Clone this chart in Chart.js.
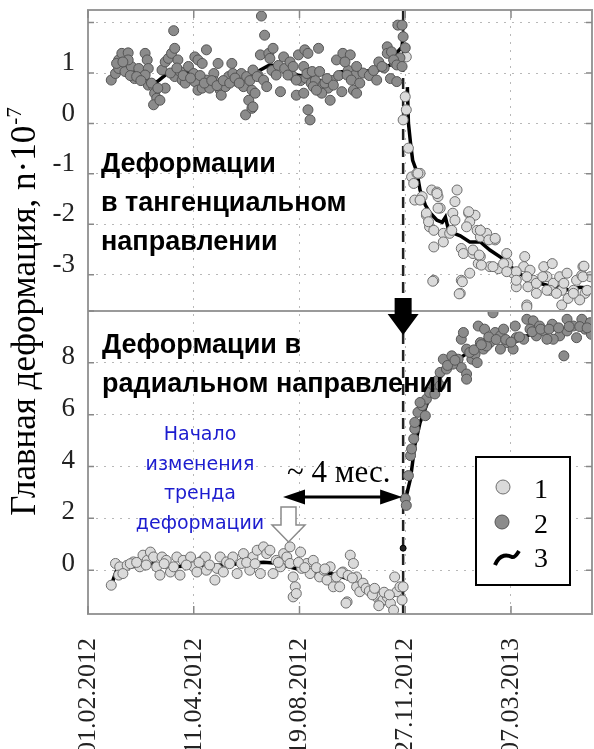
<!DOCTYPE html>
<html>
<head>
<meta charset="utf-8">
<script src="https://cdn.jsdelivr.net/npm/chart.js@4/dist/chart.umd.min.js"></script>
<style>
  body { margin: 0; background: #fff; }
  #chart { display: block; }
</style>
</head>
<body>
<canvas id="chart" width="594" height="749"></canvas>
<script>
// x is a sample position along the record, ticks every 100 units
const xTickValues = [0, 100, 200, 300, 400];
const xTickLabels = ['01.02.2012', '11.04.2012', '19.08.2012', '27.11.2012', '07.03.2013'];
const eventX = 298; // 27.11.2012 - dashed line

// top panel: tangential deformation
const tangDark = [
    [22,0.86],[26,0.99],[29,1.26],[32,1.39],[38,1.40],[29,1.09],[35,1.03],[41,1.13],[44,0.89],[38,1.26],
    [27,1.19],[33,1.22],[48,1.09],[54,1.39],[56,1.26],[57,1.09],[54,0.96],[57,0.76],[62,0.73],[63,0.60],
    [65,0.50],[62,0.37],[68,0.46],[73,0.70],[70,1.06],[73,1.22],[76,1.29],[79,1.39],[82,1.49],[81,1.84],
    [85,1.26],[82,0.93],[87,1.03],[89,0.86],[92,0.80],[95,1.13],[101,1.32],[104,1.26],[108,1.19],[112,1.46],
    [100,0.99],[101,0.83],[104,0.66],[108,0.70],[112,0.86],[115,0.70],[119,0.99],[120,0.83],[123,1.19],[125,0.66],
    [126,0.56],[130,0.73],[133,0.93],[136,1.19],[137,0.99],[141,0.83],[145,0.99],[147,0.73],[150,0.93],[152,0.46],
    [155,0.66],[149,0.17],[155,0.30],
    [40,0.95],[46,0.93],[50,0.85],[60,0.80],[66,0.70],[78,1.00],[84,1.10],[90,0.95],[97,0.90],[106,0.95],
    [110,0.80],[117,0.85],[122,0.75],[128,0.85],[134,0.80],[139,0.90],[143,0.80],[153,0.85],[161,0.95],[174,1.05],
    [180,1.15],[188,1.05],[193,0.95],[201,0.85],[206,0.90],[211,0.80],[215,0.85],[222,0.75],[227,0.70],[231,0.85],
    [237,0.95],[246,1.05],[252,0.95],[260,1.00],[266,0.95],[270,1.05],[280,1.10],[290,1.20],[295,1.30],[300,1.50],
    [164,2.13],[167,1.75],[163,1.36],[171,1.39],[175,1.49],[172,1.29],[156,1.06],[160,0.93],[166,0.86],[169,0.73],
    [158,0.60],[156,0.33],[178,0.96],[182,0.63],[185,1.32],[186,1.09],[191,1.22],[189,0.96],[194,1.13],[197,0.86],
    [199,1.36],[205,1.46],[208,1.39],[204,1.13],[207,0.99],[212,1.03],[213,0.73],[197,0.56],[204,0.60],[208,0.27],
    [210,0.07],[218,1.49],[219,1.03],[221,0.60],[216,0.66],[224,0.80],[229,0.46],[226,0.89],[232,0.76],[235,1.26],
    [241,1.39],[248,1.36],[243,1.22],[245,0.96],[249,0.86],[240,0.63],[251,0.66],[254,1.13],[257,0.80],[254,0.60],
    [273,0.86],[275,1.22],[278,1.13],[283,1.52],[283,1.39],[287,1.42],[289,1.26],[292,1.16],[286,0.89],[292,0.83],
    [293,1.95],[297,1.95],[298,1.72],[297,1.13]
];
const tangLight = [
    [301,1.32],[300,0.53],[301,0.27],[298,0.07],[303,-0.49],[306,-1.06],[311,-0.99],[314,-0.99],[308,-1.19],[309,-1.52],
    [316,-1.45],[325,-1.32],[330,-1.36],[331,-1.45],[333,-1.68],[349,-1.32],[347,-1.55],[320,-1.82],[323,-2.05],[327,-2.12],
    [336,-2.18],[327,-2.45],[336,-2.35],[342,-2.18],[344,-2.12],[345,-1.78],[347,-1.92],[353,-2.48],[355,-2.58],[360,-1.78],
    [366,-1.82],[361,-1.95],[368,-2.12],[371,-2.25],[377,-2.18],[385,-2.31],[364,-2.58],[369,-2.78],[371,-2.64],[361,-2.97],
    [353,-3.11],[352,-3.37],[327,-3.11],[380,-2.84],[388,-2.88],[396,-2.58],[397,-2.78],[402,-2.97],[405,-3.24],[413,-2.64],
    [412,-2.84],[418,-2.91],[421,-3.11],[416,-3.24],[424,-3.37],[415,-3.60],[431,-2.84],[434,-3.04],[439,-2.78],[440,-3.17],
    [437,-3.31],[446,-3.04],[448,-3.31],[453,-2.97],[448,-3.60],[462,-3.11],[468,-2.84],[467,-3.01],[470,-3.37],[475,-3.04],
    [465,-3.50],[459,-3.31],[454,-3.47],[326,-3.13],[351,-3.38],[354,-3.14],[415,-3.64],[469,-2.83],[405,-2.94],[312,-0.99],
    [314,-1.52],[320,-1.78],[322,-1.95],[330,-1.39],[331,-1.68],[360,-1.75],[358,-2.05],[371,-2.12],[379,-2.31],[385,-2.28],
    [364,-2.51],[370,-2.61],[372,-2.81],[383,-2.84],[393,-2.78],[396,-2.94],[405,-3.11],[415,-3.04],[424,-3.17],[430,-3.04],
    [434,-3.31],[443,-3.37],[450,-3.17],[459,-3.37],[468,-3.04],[472,-3.31]
];
const tangTrend = [
    [23,0.90],[27,1.12],[38,1.12],[47,1.02],[57,0.86],[65,0.82],[73,0.96],[79,1.06],[89,1.04],[98,1.00],
    [108,0.94],[117,0.88],[127,0.84],[139,0.86],[151,0.88],[163,1.06],[172,1.16],[182,1.12],[188,1.02],[198,0.96],
    [207,0.92],[217,0.86],[226,0.82],[232,0.92],[238,1.02],[248,1.04],[257,1.04],[273,1.04],[279,1.10],[286,1.16],
    [292,1.40],[297,1.52],[298,1.79],[300,null],
    [302,0.72],[303,0.01],[305,-0.39],[307,-0.73],[311,-0.96],[314,-1.32],[319,-1.62],[323,-1.76],[330,-1.92],[335,-1.96],
    [338,-1.86],[341,-2.12],[345,-2.17],[352,-2.23],[361,-2.35],[371,-2.35],[380,-2.51],[390,-2.65],[399,-2.83],[409,-2.99],
    [421,-3.13],[434,-3.21],[446,-3.25],[456,-3.31],[465,-3.25],[477,-3.27]
];

// bottom panel: radial deformation
const radLight = [
    [22,-0.58],[26,0.26],[30,0.13],[29,-0.19],[37,0.19],[33,-0.13],[43,0.32],[49,0.13],[52,0.58],[56,0.38],
    [59,0.70],[62,0.51],[65,0.13],[68,-0.19],[70,0.51],[74,0.38],[78,-0.07],[81,0.13],[84,0.51],[87,-0.19],
    [90,0.38],[97,0.51],[100,0.13],[103,-0.07],[108,0.38],[111,0.51],[112,0.00],[120,-0.38],[122,0.07],[125,0.51],
    [128,-0.07],[131,0.32],[137,0.51],[141,-0.13],[145,0.26],[147,0.64],[153,0.00],[156,0.51],[160,0.77],[166,0.90],
    [169,0.64],[172,0.77],[163,-0.13],[175,-0.13],[178,0.38],[182,0.13],[185,0.64],[188,0.51],[191,0.26],[191,0.90],
    [194,-0.26],[196,-0.64],[194,-1.03],[201,0.70],[202,0.07],[197,-0.90],[207,0.26],[210,-0.13],[213,0.38],[219,-0.26],
    [223,0.00],[226,-0.38],[229,0.13],[232,-0.64],[235,-0.26],[238,-0.64],[241,-0.07],[245,-1.22],[248,0.58],[251,0.26],
    [254,-0.64],[254,-0.26],[257,-0.83],[273,-1.03],[276,-1.28],[279,-1.15],[283,-1.03],[286,-1.28],[289,-1.54],[292,-0.83],
    [290,-0.26],[295,-0.64],[297,-1.15],[298,-0.64],[244,-1.27],[275,-1.37],
    [260,-0.50],[263,-0.70],[266,-0.80],[269,-0.95],[271,-0.70],[280,-0.85],[285,-0.95],
    [40,0.25],[46,0.30],[55,0.20],[72,0.25],[93,0.20],[105,0.30],[115,0.20],[134,0.25],[150,0.30],[158,0.25],
    [180,0.30],[199,0.30],[205,0.10],[216,0.10],[224,0.05],[240,-0.10],[246,-0.20],[250,-0.30]
];
const radDark = [
    [300,2.76],[301,2.50],[303,3.65],[305,4.42],[308,5.07],[309,5.45],[312,6.09],[316,6.35],[320,6.60],[323,6.86],
    [327,7.12],[330,7.31],[333,7.63],[336,8.14],[344,8.27],[350,8.14],[353,7.82],[358,7.57],[358,7.37],[353,8.91],
    [355,9.17],[363,8.14],[366,8.33],[371,8.78],[369,9.42],[375,9.30],[380,8.78],[383,9.93],[385,9.17],[390,9.04],
    [396,8.78],[402,8.53],[405,8.97],[412,8.91],[415,9.68],[421,9.62],[418,9.30],[424,9.04],[431,9.23],[439,9.49],
    [450,8.27],[446,9.04],[453,9.68],[459,9.42],[467,9.68],[470,9.30],[476,9.10],[475,9.55],[440,8.91],[390,8.53],
    [374,8.53],[358,8.53],[345,7.95],[339,7.76],[333,7.12],[328,6.80],[368,8.01],[377,8.65],[393,9.30],[404,9.42],
    [427,9.42],[434,8.91],[453,9.23],[462,8.97],[319,5.96],[306,4.68],[309,5.70],[314,6.47],
    [340,7.90],[347,8.10],[361,8.40],[365,8.50],[372,8.70],[379,9.00],[386,8.90],[395,8.90],[400,8.80],[408,9.00],
    [420,9.20],[428,9.30],[436,9.30],[445,9.35],[455,9.40],[465,9.40],[472,9.35]
];
const radDot = [[298,0.85]];
const radTrend = [
    [23,-0.46],[27,0.00],[40,0.12],[52,0.19],[62,0.27],[75,0.12],[90,0.15],[106,0.19],[122,0.19],[137,0.23],
    [153,0.27],[166,0.31],[179,0.27],[191,0.12],[203,0.00],[217,-0.08],[229,-0.12],[241,-0.27],[254,-0.46],[267,-0.69],
    [276,-0.96],[286,-1.04],[295,-0.85],[298,-0.77],[299,null],
    [300,2.69],[305,3.54],[309,4.81],[314,5.69],[321,6.46],[326,7.00],[336,7.62],[342,8.00],[355,8.27],[364,8.54],
    [377,8.96],[390,8.92],[402,8.77],[415,9.04],[427,9.23],[446,9.31],[465,9.35],[477,9.35]
];

const lightFill = '#dadada', lightEdge = '#6e6e6e';
const darkFill = '#8b8b8b', darkEdge = '#555555';
const serif = '"Liberation Serif", "Times New Roman", serif';
const gridColor = '#b8b8b8';

function arrowHead(ctx, x, y, dir, len, half) {
    ctx.beginPath();
    ctx.moveTo(x, y);
    ctx.lineTo(x - dir * len, y - half);
    ctx.lineTo(x - dir * len, y + half);
    ctx.closePath();
    ctx.fill();
}

// no extra room for edge labels, the plot box is fixed
function fixPadding(s) {
    s.paddingTop = 0;
    s.paddingBottom = 0;
    s.paddingLeft = 0;
    s.paddingRight = 0;
}

const overlay = {
    id: 'overlay',
    beforeDatasetsDraw(chart) {
        const { ctx, chartArea: a, scales } = chart;
        const x = scales.x.getPixelForValue(eventX);
        ctx.save();
        ctx.strokeStyle = '#222';
        ctx.lineWidth = 2.5;
        ctx.setLineDash([11, 6]);
        ctx.beginPath();
        ctx.moveTo(x, a.top);
        ctx.lineTo(x, a.bottom);
        ctx.stroke();
        ctx.restore();
    },
    afterDatasetsDraw(chart) {
        const { ctx, chartArea: a, scales } = chart;
        const L = a.left, T = a.top;
        const dx = scales.x.getPixelForValue(eventX);
        ctx.save();

        // frame + panel divider
        ctx.strokeStyle = '#9a9a9a';
        ctx.lineWidth = 2;
        ctx.strokeRect(a.left, a.top, a.right - a.left, a.bottom - a.top);
        ctx.beginPath();
        ctx.moveTo(a.left, scales.yTop.bottom);
        ctx.lineTo(a.right, scales.yTop.bottom);
        ctx.stroke();

        // short inward tick marks
        ctx.strokeStyle = '#888';
        ctx.lineWidth = 1.5;
        ctx.beginPath();
        xTickValues.forEach(v => {
            const px = scales.x.getPixelForValue(v);
            ctx.moveTo(px, a.top); ctx.lineTo(px, a.top + 8);
            ctx.moveTo(px, a.bottom); ctx.lineTo(px, a.bottom - 8);
        });
        ['yTop', 'yBot'].forEach(id => {
            scales[id].ticks.forEach(t => {
                const py = scales[id].getPixelForValue(t.value);
                ctx.moveTo(a.left, py); ctx.lineTo(a.left + 6, py);
                ctx.moveTo(a.right, py); ctx.lineTo(a.right - 6, py);
            });
        });
        ctx.stroke();

        // bold panel captions
        ctx.fillStyle = '#000';
        ctx.font = 'bold 27px "Liberation Sans", Arial, sans-serif';
        ctx.textAlign = 'left';
        ctx.textBaseline = 'alphabetic';
        ctx.fillText('Деформации', L + 13, T + 162);
        ctx.fillText('в тангенциальном', L + 13, T + 201);
        ctx.fillText('направлении', L + 13, T + 240);
        ctx.fillText('Деформации в', L + 14, T + 343);
        ctx.fillText('радиальном направлении', L + 14, T + 382);

        // blue note
        ctx.fillStyle = '#1c1ccf';
        ctx.font = '19px "DejaVu Sans", Verdana, sans-serif';
        ctx.textAlign = 'center';
        ['Начало', 'изменения', 'тренда', 'деформации'].forEach((s, i) => {
            ctx.fillText(s, L + 112, T + 430 + i * 29.5);
        });

        // hollow down arrow
        const hx = L + 200.5, hy = T + 497;
        ctx.fillStyle = '#fff';
        ctx.strokeStyle = '#8a8a8a';
        ctx.lineWidth = 1.5;
        ctx.beginPath();
        ctx.moveTo(hx - 7.5, hy);
        ctx.lineTo(hx + 7.5, hy);
        ctx.lineTo(hx + 7.5, hy + 18);
        ctx.lineTo(hx + 16.5, hy + 18);
        ctx.lineTo(hx, hy + 35);
        ctx.lineTo(hx - 16.5, hy + 18);
        ctx.lineTo(hx - 7.5, hy + 18);
        ctx.closePath();
        ctx.fill();
        ctx.stroke();

        // ~4 months
        ctx.fillStyle = '#000';
        ctx.font = '31px ' + serif;
        ctx.textAlign = 'left';
        ctx.fillText('~ 4 мес.', L + 199, T + 472);
        const ay = T + 487, ax0 = L + 195;
        ctx.strokeStyle = '#000';
        ctx.lineWidth = 3;
        ctx.beginPath();
        ctx.moveTo(ax0 + 18, ay);
        ctx.lineTo(dx - 18, ay);
        ctx.stroke();
        arrowHead(ctx, ax0, ay, -1, 22, 7.5);
        arrowHead(ctx, dx - 1, ay, 1, 22, 7.5);

        // black down arrow at the panel border
        ctx.beginPath();
        ctx.moveTo(dx - 8.5, T + 288);
        ctx.lineTo(dx + 8.5, T + 288);
        ctx.lineTo(dx + 8.5, T + 304);
        ctx.lineTo(dx + 15.5, T + 304);
        ctx.lineTo(dx, T + 325);
        ctx.lineTo(dx - 15.5, T + 304);
        ctx.lineTo(dx - 8.5, T + 304);
        ctx.closePath();
        ctx.fill();

        // legend box
        const bx = L + 388, by = T + 447;
        ctx.fillStyle = '#fff';
        ctx.fillRect(bx, by, 94, 128);
        ctx.strokeStyle = '#000';
        ctx.lineWidth = 2;
        ctx.strokeRect(bx, by, 94, 128);
        ctx.lineWidth = 1;
        ctx.fillStyle = lightFill; ctx.strokeStyle = lightEdge;
        ctx.beginPath(); ctx.arc(bx + 27, by + 30, 7, 0, Math.PI * 2); ctx.fill(); ctx.stroke();
        ctx.fillStyle = darkFill; ctx.strokeStyle = darkEdge;
        ctx.beginPath(); ctx.arc(bx + 26, by + 65, 7, 0, Math.PI * 2); ctx.fill(); ctx.stroke();
        ctx.strokeStyle = '#000';
        ctx.lineWidth = 4;
        ctx.beginPath();
        ctx.moveTo(bx + 19, by + 108);
        ctx.bezierCurveTo(bx + 24, by + 96, bx + 32, by + 98, bx + 36, by + 100);
        ctx.bezierCurveTo(bx + 39, by + 101, bx + 41, by + 97, bx + 43, by + 94);
        ctx.stroke();
        ctx.fillStyle = '#000';
        ctx.font = '28px ' + serif;
        ctx.fillText('1', bx + 58, by + 41);
        ctx.fillText('2', bx + 58, by + 76);
        ctx.fillText('3', bx + 58, by + 110);

        // y axis title
        ctx.translate(35, 312);
        ctx.rotate(-Math.PI / 2);
        const main = 'Главная деформация, n·10';
        ctx.font = '35px ' + serif;
        const w1 = ctx.measureText(main).width;
        ctx.font = '21px ' + serif;
        const w2 = ctx.measureText('-7').width;
        const start = -(w1 + w2) / 2;
        ctx.font = '35px ' + serif;
        ctx.fillText(main, start, 0);
        ctx.font = '21px ' + serif;
        ctx.fillText('-7', start + w1 + 1, -14);
        ctx.restore();
    }
};

const pointStyle = (fill, edge) => ({
    type: 'scatter',
    showLine: false,
    backgroundColor: fill,
    borderColor: edge,
    borderWidth: 1,
    pointRadius: 5,
    pointHoverRadius: 5
});
const trendStyle = {
    type: 'line',
    showLine: true,
    borderColor: '#000',
    borderWidth: 3.5,
    pointRadius: 0,
    tension: 0,
    spanGaps: false
};

new Chart(document.getElementById('chart'), {
    type: 'scatter',
    data: {
        datasets: [
            { label: '2', data: tangDark, yAxisID: 'yTop', ...pointStyle(darkFill, darkEdge) },
            { label: '1', data: tangLight, yAxisID: 'yTop', ...pointStyle(lightFill, lightEdge) },
            { label: '1', data: radLight, yAxisID: 'yBot', ...pointStyle(lightFill, lightEdge) },
            { label: '2', data: radDark, yAxisID: 'yBot', ...pointStyle(darkFill, darkEdge) },
            { label: '2', data: radDot, yAxisID: 'yBot', type: 'scatter', backgroundColor: '#222', borderColor: '#000', pointRadius: 3 },
            { label: '3', data: tangTrend, yAxisID: 'yTop', ...trendStyle },
            { label: '3', data: radTrend, yAxisID: 'yBot', ...trendStyle }
        ]
    },
    options: {
        responsive: false,
        animation: false,
        layout: { autoPadding: false, padding: { top: 10, right: 2, left: 0, bottom: 0 } },
        plugins: { legend: { display: false }, tooltip: { enabled: false } },
        scales: {
            x: {
                type: 'linear',
                min: 0,
                max: 476.6,
                afterBuildTicks: s => { s.ticks = xTickValues.map(v => ({ value: v })); },
                afterFit: s => { s.height = 135; fixPadding(s); },
                ticks: {
                    autoSkip: false,
                    minRotation: 90,
                    maxRotation: 90,
                    padding: 24,
                    color: '#222',
                    font: { family: serif, size: 26 },
                    callback: (v, i) => xTickLabels[i]
                },
                grid: { color: gridColor, drawTicks: false },
                border: { display: false, dash: [2, 6] }
            },
            yTop: {
                type: 'linear',
                position: 'left',
                stack: 'panels',
                stackWeight: 301,
                weight: 2,
                min: -3.72,
                max: 2.25,
                afterFit: s => { s.width = 88; fixPadding(s); },
                ticks: {
                    stepSize: 1,
                    includeBounds: false,
                    padding: 13,
                    labelOffset: -10,
                    color: '#222',
                    font: { family: serif, size: 27 },
                    callback: v => (v === 2 ? '' : v)
                },
                grid: { color: gridColor, drawTicks: false },
                border: { display: false, dash: [2, 6] }
            },
            yBot: {
                type: 'linear',
                position: 'left',
                stack: 'panels',
                stackWeight: 303,
                weight: 1,
                min: -1.69,
                max: 10,
                afterFit: s => { s.width = 88; fixPadding(s); },
                ticks: {
                    stepSize: 2,
                    includeBounds: false,
                    padding: 13,
                    labelOffset: -6,
                    color: '#222',
                    font: { family: serif, size: 27 },
                    callback: v => (v === 10 ? '' : v)
                },
                grid: { color: gridColor, drawTicks: false },
                border: { display: false, dash: [2, 6] }
            }
        }
    },
    plugins: [overlay]
});
</script>
</body>
</html>
